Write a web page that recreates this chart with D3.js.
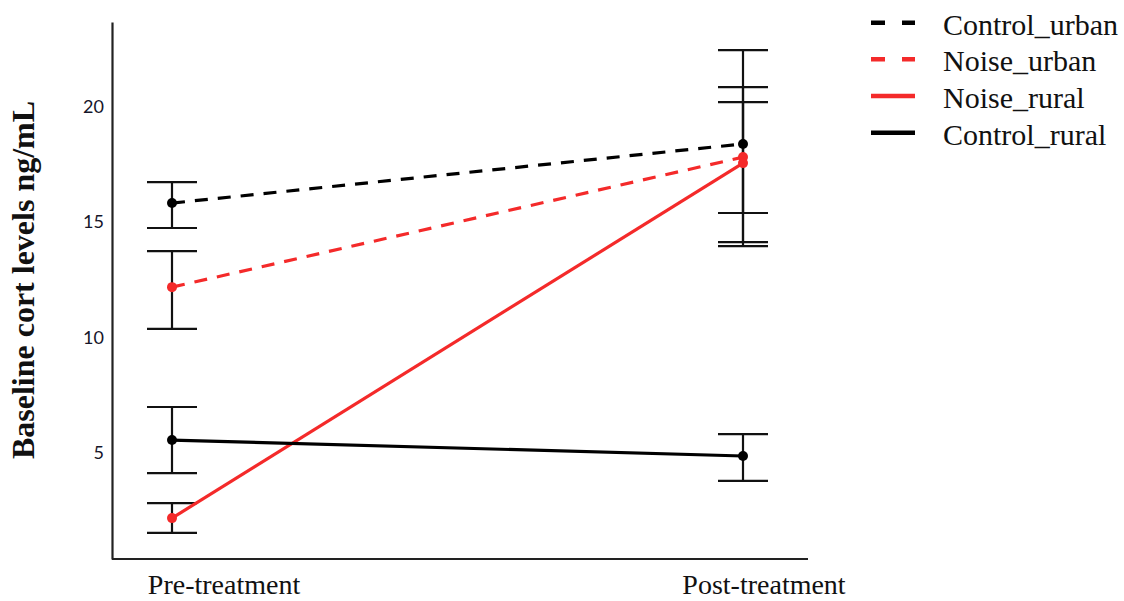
<!DOCTYPE html>
<html>
<head>
<meta charset="utf-8">
<script src="https://cdn.jsdelivr.net/npm/d3@7"></script>
<style>
  body { margin: 0; background: #fff; }
</style>
</head>
<body>
<svg id="chart" width="1124" height="601"></svg>
<script>
// categories on the x axis
const categories = ["Pre-treatment", "Post-treatment"];
const seriesNames = ["Control_urban", "Noise_urban", "Noise_rural", "Control_rural"];
const yTicks = [5, 10, 15, 20];

// means + error bar ends, [pre, post]
const controlUrbanMean = [15.81, 18.37];
const controlUrbanHigh = [16.72, 22.43];
const controlUrbanLow = [14.73, 14.12];

const noiseUrbanMean = [12.17, 17.8];
const noiseUrbanHigh = [13.73, 20.18];
const noiseUrbanLow = [10.36, 15.38];

const noiseRuralMean = [2.17, 17.54];
const noiseRuralHigh = [2.82, 20.83];
const noiseRuralLow = [1.53, 13.95];

const controlRuralMean = [5.55, 4.86];
const controlRuralHigh = [6.98, 5.81];
const controlRuralLow = [4.12, 3.78];

const red = "#f42a2a";
const styles = {
  Control_urban: { color: "#000", dash: "13,10", legendDash: "14,17" },
  Noise_urban: { color: red, dash: "13,10", legendDash: "14,17" },
  Noise_rural: { color: red, dash: null, legendDash: null },
  Control_rural: { color: "#000", dash: null, legendDash: null },
};

const series = [
  { name: "Control_urban", mean: controlUrbanMean, high: controlUrbanHigh, low: controlUrbanLow },
  { name: "Noise_urban", mean: noiseUrbanMean, high: noiseUrbanHigh, low: noiseUrbanLow },
  { name: "Noise_rural", mean: noiseRuralMean, high: noiseRuralHigh, low: noiseRuralLow },
  { name: "Control_rural", mean: controlRuralMean, high: controlRuralHigh, low: controlRuralLow },
];

const frame = { left: 112, right: 808, top: 22, bottom: 559 };
const capHalf = 25;
const serif = "'Liberation Serif', 'Times New Roman', serif";

const svg = d3.select("#chart");

const x = d3.scalePoint().domain(categories).range([172, 743]);
const xLabel = d3.scalePoint().domain(categories).range([224, 764]); // labels sit right of the bars
const y = d3.scaleLinear().domain([0.4, 23.65]).range([frame.bottom, frame.top]);

// y axis
const yAxis = svg.append("g")
  .attr("transform", `translate(${frame.left},0)`)
  .call(d3.axisLeft(y).tickValues(yTicks).tickSize(0).tickPadding(8).tickSizeOuter(0));
yAxis.select(".domain").attr("stroke", "#222").attr("stroke-width", 2.2);
yAxis.selectAll("text")
  .style("font-family", "Lato, 'Open Sans', sans-serif")
  .style("font-size", "18px")
  .attr("fill", "#15152a");

// x axis line
svg.append("line")
  .attr("x1", frame.left).attr("x2", frame.right)
  .attr("y1", frame.bottom).attr("y2", frame.bottom)
  .attr("stroke", "#222").attr("stroke-width", 2.2);

svg.append("g")
  .selectAll("text")
  .data(categories)
  .join("text")
  .attr("x", d => xLabel(d))
  .attr("y", 594)
  .attr("text-anchor", "middle")
  .style("font-family", serif)
  .style("font-size", "28px")
  .attr("fill", "#111")
  .text(d => d);

// y title
svg.append("text")
  .attr("transform", "translate(34,280) rotate(-90)")
  .attr("text-anchor", "middle")
  .style("font-family", serif)
  .style("font-size", "32px")
  .style("font-weight", "bold")
  .attr("fill", "#111")
  .text("Baseline cort levels ng/mL");

// error bars
const bars = [];
series.forEach(s => categories.forEach((c, i) => bars.push({ c, hi: s.high[i], lo: s.low[i] })));

const eb = svg.append("g").attr("stroke", "#111").attr("stroke-width", 2.2);
eb.selectAll("line.stem").data(bars).join("line").attr("class", "stem")
  .attr("x1", d => x(d.c)).attr("x2", d => x(d.c))
  .attr("y1", d => y(d.hi)).attr("y2", d => y(d.lo));
eb.selectAll("line.capHi").data(bars).join("line").attr("class", "capHi")
  .attr("x1", d => x(d.c) - capHalf).attr("x2", d => x(d.c) + capHalf)
  .attr("y1", d => y(d.hi)).attr("y2", d => y(d.hi));
eb.selectAll("line.capLo").data(bars).join("line").attr("class", "capLo")
  .attr("x1", d => x(d.c) - capHalf).attr("x2", d => x(d.c) + capHalf)
  .attr("y1", d => y(d.lo)).attr("y2", d => y(d.lo));

// mean lines
const line = d3.line().x(d => x(d.c)).y(d => y(d.v));
svg.append("g").selectAll("path")
  .data(series)
  .join("path")
  .attr("d", s => line(categories.map((c, i) => ({ c, v: s.mean[i] }))))
  .attr("fill", "none")
  .attr("stroke", s => styles[s.name].color)
  .attr("stroke-width", 3.2)
  .attr("stroke-dasharray", s => styles[s.name].dash);

// dots, red first so black sits on top
const dots = [];
[series[1], series[2], series[0], series[3]].forEach(s =>
  categories.forEach((c, i) => dots.push({ c, v: s.mean[i], color: styles[s.name].color })));
svg.append("g").selectAll("circle")
  .data(dots)
  .join("circle")
  .attr("cx", d => x(d.c))
  .attr("cy", d => y(d.v))
  .attr("r", 5)
  .attr("fill", d => d.color);

// legend
const legend = svg.append("g");
const row = d3.scalePoint().domain(seriesNames).range([22.7, 132.7]);
legend.selectAll("line")
  .data(seriesNames)
  .join("line")
  .attr("x1", 871).attr("x2", 915)
  .attr("y1", d => row(d)).attr("y2", d => row(d))
  .attr("stroke", d => styles[d].color)
  .attr("stroke-width", 4.5)
  .attr("stroke-dasharray", d => styles[d].legendDash);
legend.selectAll("text")
  .data(seriesNames)
  .join("text")
  .attr("x", 943)
  .attr("y", d => row(d) + 12)
  .style("font-family", serif)
  .style("font-size", "30px")
  .attr("fill", "#111")
  .text(d => d);
</script>
</body>
</html>
